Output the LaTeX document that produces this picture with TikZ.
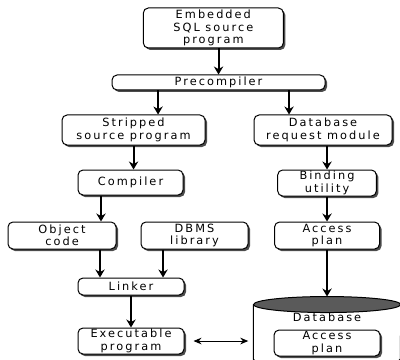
\documentclass[tikz,border=0pt]{standalone}
\usepackage{fontspec}
\setmainfont{DejaVu Sans}[LetterSpace=18]
\usetikzlibrary{positioning,shadows,arrows.meta}
\definecolor{dbtop}{RGB}{90,90,90}

\begin{document}
\begin{tikzpicture}[%
  font=\fontsize{8.5}{9.3}\selectfont,%
  box/.style={draw,rounded corners=3.75pt,line width=0.75pt,fill=white,align=center,inner sep=1pt,%
    drop shadow={shadow xshift=1.5pt,shadow yshift=-1.5pt,fill=black!70,opacity=1}},%
  arr/.style={-{Stealth[length=6pt,width=7pt]},line width=1.5pt},%
  both/.style={{Stealth[length=6pt,width=5pt]}-{Stealth[length=6pt,width=5pt]},line width=0.75pt}%
  ]
  \useasboundingbox (0,0) rectangle (300pt,-270pt);
%
  \node (emb) [box,minimum width=105pt,minimum height=30pt] at (160pt,-21pt) {Embedded\\SQL source\\program};
  \node (pre) [box,minimum width=159.75pt,minimum height=11.25pt,below=19.5pt of emb,xshift=3.9pt] {Precompiler};
%
  \node (strip) [box,minimum width=107.25pt,minimum height=22.5pt,below=18pt of pre,xshift=-63.75pt] {Stripped\\source program};
  \node (dbreq) [box,minimum width=103.5pt,minimum height=22.5pt,right=36pt of strip] {Database\\request module};
%
  \node (comp) [box,minimum width=78.75pt,minimum height=18.75pt,below=18pt of strip,xshift=-2.25pt] {Compiler};
  \node (bind) [box,minimum width=74pt,minimum height=19.5pt,below=18pt of dbreq,xshift=3pt] {Binding\\utility};
%
  \node (obj)  [box,minimum width=81pt,minimum height=20.25pt,below=19.5pt of comp,xshift=-51.4pt] {Object\\code};
  \node (dbms) [box,minimum width=80.25pt,minimum height=20.25pt,right=18pt of obj] {DBMS\\library};
  \node (acc)  [box,minimum width=78.75pt,minimum height=20.25pt,below=18.75pt of bind] {Access\\plan};
%
  \node (link) [box,minimum width=79.5pt,minimum height=12.75pt,below=21pt of obj,xshift=51.75pt] {Linker};
  \node (exe)  [box,minimum width=79.5pt,minimum height=19.5pt,below=24pt of link] {Executable\\program};
%
  \node (cyl) [minimum width=110.25pt,minimum height=52.5pt,inner sep=0,below=35.25pt of acc] {};
  \draw[line width=0.75pt,fill=white] ([yshift=-6pt]cyl.north west) -- ([yshift=6pt]cyl.south west)
    arc[start angle=180,end angle=360,x radius=55.125pt,y radius=6pt] -- ([yshift=-6pt]cyl.north east);
  \draw[line width=0.75pt,fill=dbtop] ([yshift=-6pt]cyl.north) ellipse [x radius=55.125pt,y radius=6pt];
  \node (dblab) [below=9pt of cyl.north] {Database};
  \node (dbacc) [box,minimum width=79.5pt,minimum height=19.5pt,below=24.75pt of cyl.north] {Access\\plan};
%
  \draw[arr] (pre.north |- emb.south) -- (pre.north);
  \draw[arr] ([xshift=18.4pt]strip.north |- pre.south) -- ([xshift=18.4pt]strip.north);
  \draw[arr] ([xshift=-25.5pt]dbreq.north |- pre.south) -- ([xshift=-25.5pt]dbreq.north);
%
  \draw[arr] (strip.south) -- (strip.south |- comp.north);
  \draw[arr] (bind.north |- dbreq.south) -- (bind.north);
%
  \draw[arr] ([xshift=29.25pt]obj.north |- comp.south) -- ([xshift=29.25pt]obj.north);
  \draw[arr] ([xshift=28.5pt]obj.south) -- ([xshift=28.5pt]obj.south |- link.north);
  \draw[arr] ([xshift=-23.6pt]dbms.south) -- ([xshift=-23.6pt]dbms.south |- link.north);
  \draw[arr] (acc.north |- bind.south) -- (acc.north);
%
  \draw[arr] (exe.north |- link.south) -- (exe.north);
  \draw[arr] (acc.south) -- (acc.south |- cyl.north);
  \draw[both] ([xshift=6.75pt]exe.east) -- ([xshift=-3.75pt]cyl.west |- exe.east);
%
\end{tikzpicture}
\end{document}
